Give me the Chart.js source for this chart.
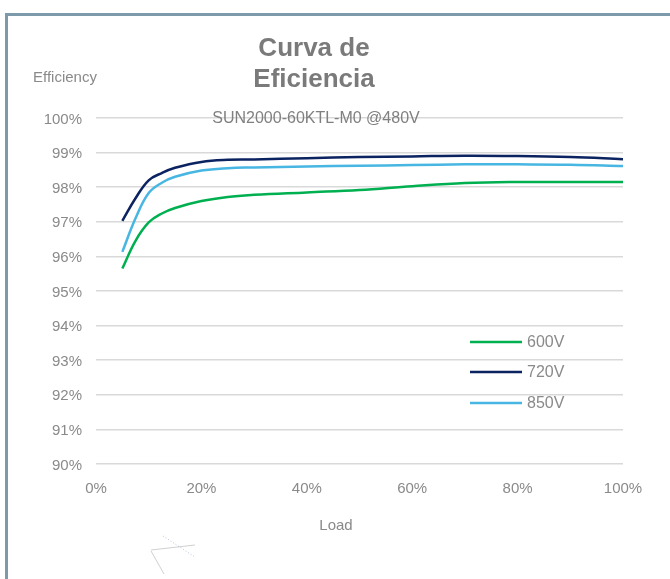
<!DOCTYPE html>
<html>
<head>
<meta charset="utf-8">
<title>Curva de Eficiencia</title>
<script src="https://cdn.jsdelivr.net/npm/chart.js@4.4.1/dist/chart.umd.min.js"></script>
<style>
    body { margin: 0; background: #fff; }
    canvas { display: block; }
</style>
</head>
<body>
<canvas id="eff-chart" width="670" height="579"></canvas>
<script>
// Load points (% of rated power) and measured efficiency (%) per DC input voltage
const loads = [5, 7.5, 10, 12.5, 15, 20, 25, 30, 40, 50, 60, 70, 80, 90, 100];
const eff600 = [95.65, 96.45, 96.98, 97.24, 97.4, 97.6, 97.72, 97.78, 97.85, 97.92, 98.03, 98.12, 98.15, 98.15, 98.15];
const eff720 = [97.03, 97.68, 98.2, 98.41, 98.56, 98.73, 98.79, 98.8, 98.84, 98.87, 98.89, 98.91, 98.9, 98.87, 98.81];
const eff850 = [96.13, 97.1, 97.83, 98.13, 98.3, 98.48, 98.55, 98.57, 98.6, 98.62, 98.64, 98.66, 98.66, 98.65, 98.61];

const seriesNames = ['600V', '720V', '850V'];
const seriesColors = ['#00b050', '#0b2361', '#47b6e2'];

const titleLines = ['Curva de', 'Eficiencia'];
const subtitleText = 'SUN2000-60KTL-M0 @480V';

const FONT = '"Liberation Sans", Arial, sans-serif';
const TEXT_GRAY = '#8a8a8a';

function toPoints(values) {
    return loads.map((load, i) => ({ x: load, y: values[i] }));
}

/**
 * Frame, titles, axis captions and the in-plot legend
 */
const decorations = {
    id: 'decorations',
    beforeDraw(chart) {
        const ctx = chart.ctx;
        ctx.save();
        ctx.fillStyle = '#ffffff';
        ctx.fillRect(0, 0, chart.width, chart.height);
        // Panel frame (top and left edges only)
        ctx.fillStyle = '#7d9aab';
        ctx.fillRect(5, 13, chart.width - 5, 3);
        ctx.fillRect(5, 13, 3, chart.height - 13);
        ctx.restore();
    },
    afterDraw(chart) {
        const ctx = chart.ctx;
        const area = chart.chartArea;
        ctx.save();

        // Title
        ctx.fillStyle = '#7a7a7a';
        ctx.font = 'bold 26px ' + FONT;
        ctx.textAlign = 'center';
        ctx.textBaseline = 'alphabetic';
        ctx.fillText(titleLines[0], 314, 56);
        ctx.fillText(titleLines[1], 314, 87);

        // Subtitle sits on the 100% gridline
        ctx.font = '16px ' + FONT;
        ctx.fillStyle = '#808080';
        ctx.textBaseline = 'middle';
        ctx.fillText(subtitleText, 316, area.top + 1);

        // Axis captions
        ctx.fillStyle = TEXT_GRAY;
        ctx.textAlign = 'left';
        ctx.font = '15px ' + FONT;
        ctx.fillText('Efficiency', 33, 78);
        ctx.textAlign = 'center';
        ctx.fillText('Load', 336, 526);

        // Legend
        const legendY = [342, 372, 403];
        chart.data.datasets.forEach((ds, i) => {
            ctx.strokeStyle = ds.borderColor;
            ctx.lineWidth = 2.5;
            ctx.beginPath();
            ctx.moveTo(470, legendY[i]);
            ctx.lineTo(522, legendY[i]);
            ctx.stroke();
            ctx.fillStyle = TEXT_GRAY;
            ctx.textAlign = 'left';
            ctx.font = '16px ' + FONT;
            ctx.fillText(ds.label, 527, legendY[i] + 1);
        });

        // Faint pen marks below the axis
        ctx.strokeStyle = 'rgba(150, 150, 150, 0.45)';
        ctx.lineWidth = 1;
        ctx.beginPath();
        ctx.moveTo(151, 551); ctx.lineTo(164, 574);
        ctx.moveTo(151, 550); ctx.lineTo(195, 545);
        ctx.stroke();
        ctx.setLineDash([1, 2]);
        ctx.strokeStyle = 'rgba(120, 140, 170, 0.5)';
        ctx.beginPath();
        ctx.moveTo(163, 536); ctx.lineTo(195, 557);
        ctx.stroke();

        ctx.restore();
    }
};

const context = document.getElementById('eff-chart').getContext('2d');

const effChart = new Chart(context, {
    type: 'line',
    data: {
        datasets: [eff600, eff720, eff850].map((values, i) => ({
            label: seriesNames[i],
            data: toPoints(values),
            borderColor: seriesColors[i],
            backgroundColor: seriesColors[i],
            borderWidth: 2.5,
            pointRadius: 0,
            tension: 0.4,
            fill: false
        }))
    },
    options: {
        responsive: false,
        animation: false,
        layout: {
            padding: { top: 118, left: 0, right: 47, bottom: 0 }
        },
        plugins: {
            legend: { display: false },
            title: { display: false },
            tooltip: { enabled: false }
        },
        scales: {
            x: {
                type: 'linear',
                min: 0,
                max: 100,
                afterFit: scale => { scale.height = 115; },
                ticks: {
                    stepSize: 20,
                    padding: 16,
                    color: TEXT_GRAY,
                    font: { family: FONT, size: 15 },
                    callback: value => value + '%'
                },
                grid: { display: false, drawTicks: false },
                border: { display: false }
            },
            y: {
                min: 90,
                max: 100,
                afterFit: scale => { scale.width = 96; },
                ticks: {
                    stepSize: 1,
                    padding: 14,
                    labelOffset: 1.5,
                    color: TEXT_GRAY,
                    font: { family: FONT, size: 15 },
                    callback: value => value + '%'
                },
                grid: { color: '#d9d9d9', lineWidth: 1.5, drawTicks: false },
                border: { display: false }
            }
        }
    },
    plugins: [decorations]
});
</script>
</body>
</html>
